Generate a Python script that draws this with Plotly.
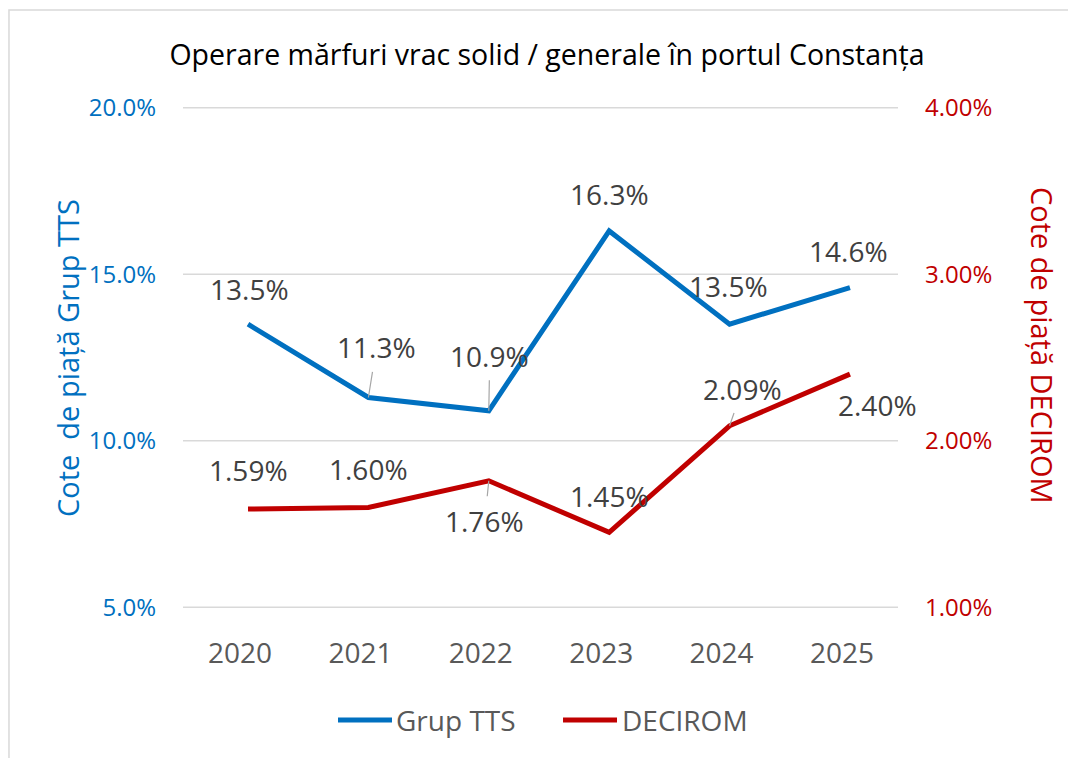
import plotly.graph_objects as go

years = ["2020", "2021", "2022", "2023", "2024", "2025"]
tts = [13.5, 11.3, 10.9, 16.3, 13.5, 14.6]
decirom = [1.59, 1.60, 1.76, 1.45, 2.09, 2.40]
tts_labels = ["13.5%", "11.3%", "10.9%", "16.3%", "13.5%", "14.6%"]
dec_labels = ["1.59%", "1.60%", "1.76%", "1.45%", "2.09%", "2.40%"]
left_ticks = [5, 10, 15, 20]
left_ticktext = ["5.0%", "10.0%", "15.0%", "20.0%"]
right_ticks = [1, 2, 3, 4]
right_ticktext = ["1.00%", "2.00%", "3.00%", "4.00%"]
series_names = ["Grup TTS", "DECIROM"]

BLUE = "#0070C0"
RED = "#C00000"
FONT = "Open Sans"

fig = go.Figure()
fig.add_trace(go.Scatter(x=years, y=tts, name=series_names[0], mode="lines",
                         line=dict(color=BLUE, width=5), yaxis="y", showlegend=False))
fig.add_trace(go.Scatter(x=years, y=decirom, name=series_names[1], mode="lines",
                         line=dict(color=RED, width=5), yaxis="y2", showlegend=False))

# label offsets (pixels): (dx, dy, leader line?)
tts_off = [(1, -35, False), (8, -50, True), (1, -55, True), (0, -37, False), (-1, -38, False), (-1, -37, False)]
dec_off = [(0, -39, False), (0, -38, False), (-4, 40, True), (0, -36, False), (13, -37, True), (28, 31, False)]

ann = []
def add_labels(vals, labels, offs, yref):
    for i, (v, t, (dx, dy, lead)) in enumerate(zip(vals, labels, offs)):
        if lead:
            ann.append(dict(x=i, y=v, xref="x", yref=yref, text=t, showarrow=True,
                            ax=dx, ay=dy, arrowhead=0, arrowwidth=1.2, arrowcolor="#A6A6A6",
                            startstandoff=4, standoff=0,
                            font=dict(family=FONT, size=28, color="#404040")))
        else:
            ann.append(dict(x=i, y=v, xref="x", yref=yref, text=t, showarrow=False,
                            xshift=dx, yshift=-dy,
                            font=dict(family=FONT, size=28, color="#404040")))

add_labels(tts, tts_labels, tts_off, "y")
add_labels(decirom, dec_labels, dec_off, "y2")

ann.append(dict(x=-0.1622, y=0.499, xref="paper", yref="paper", text="Cote  de piață Grup TTS",
                xanchor="center", yanchor="middle",
                textangle=-90, showarrow=False, font=dict(family=FONT, size=29, color=BLUE)))
ann.append(dict(x=1.2014, y=0.525, xref="paper", yref="paper", text="Cote de piață DECIROM",
                xanchor="center", yanchor="middle",
                textangle=90, showarrow=False, font=dict(family=FONT, size=29, color=RED)))

# manual legend (line swatch + text)
leg_y = -0.2236
leg_items = [(series_names[0], BLUE, 0.2168, 0.2923, 0.2951),
             (series_names[1], RED, 0.5315, 0.6070, 0.6112)]
leg_shapes = []
for name, col, lx0, lx1, tx in leg_items:
    leg_shapes.append(dict(type="line", xref="paper", yref="paper", x0=lx0, x1=lx1, y0=leg_y, y1=leg_y,
                           line=dict(color=col, width=5)))
    ann.append(dict(x=tx, y=leg_y, xref="paper", yref="paper", text=name, xanchor="left",
                    yanchor="middle", showarrow=False,
                    font=dict(family=FONT, size=28, color="#595959")))

grid_shapes = [dict(type="line", xref="paper", yref="y", x0=0, x1=1, y0=v, y1=v,
                    line=dict(color="#D9D9D9", width=1.5), layer="below") for v in left_ticks]

fig.update_layout(
    width=1068, height=750,
    margin=dict(l=175, r=178, t=99, b=150),
    paper_bgcolor="white", plot_bgcolor="white",
    showlegend=False,
    title=dict(text="Operare mărfuri vrac solid / generale în portul Constanța",
               x=(539 / 1068), xanchor="center", y=1 - 47 / 750, yanchor="middle",
               font=dict(family=FONT, size=28.5, color="#000000")),
    xaxis=dict(type="category", range=[-0.54, 5.399], showgrid=False, zeroline=False,
               showline=False, ticks="", ticklabelstandoff=26, ticklabelshift=-8,
               tickfont=dict(family=FONT, size=28, color="#595959")),
    yaxis=dict(range=[4.98, 20.02], tickvals=left_ticks, ticktext=left_ticktext,
               showgrid=False, zeroline=False,
               showline=False, ticks="", ticklabelstandoff=26,
               tickfont=dict(family=FONT, size=24, color=BLUE)),
    yaxis2=dict(range=[0.996, 4.004], tickvals=right_ticks, ticktext=right_ticktext,
                overlaying="y", side="right", showgrid=False, zeroline=False,
                showline=False, ticks="", ticklabelstandoff=26,
                tickfont=dict(family=FONT, size=24, color=RED)),
    annotations=ann,
    shapes=grid_shapes + leg_shapes + [dict(type="rect", xref="paper", yref="paper", x0=-0.2434, x1=1.4, y0=-0.5, y1=1.1936,
                 line=dict(color="#D9D9D9", width=1.5), fillcolor="rgba(0,0,0,0)", layer="below")],
)

fig.write_html("out.html")
